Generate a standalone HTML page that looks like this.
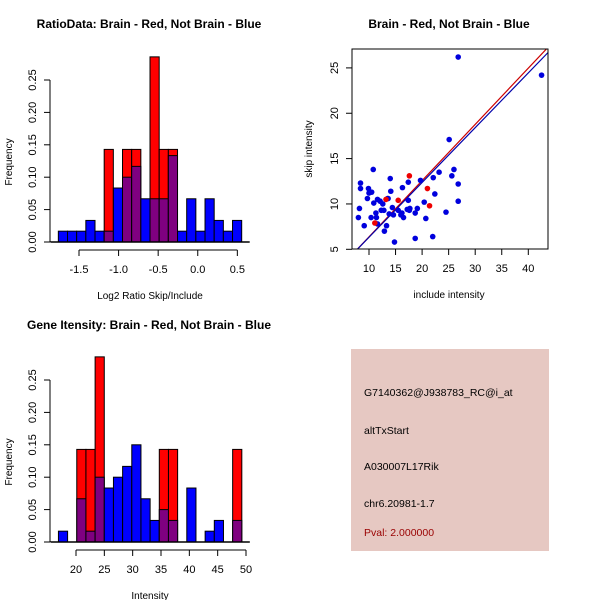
<!DOCTYPE html>
<html><head><meta charset="utf-8"><style>
body{margin:0;background:#fff}
svg{display:block;font-family:"Liberation Sans",sans-serif}
</style></head><body>
<svg id="c" width="600" height="600" xmlns="http://www.w3.org/2000/svg">
<rect width="600" height="600" fill="#fff"/>
</svg>
<script>
// Histogram 1: ratio data (20 bins)
const ratioBinStart = -1.761;
const ratioBinWidth = 0.1158;
const ratioBlue = [0.0167,0.0167,0.0167,0.0333,0.0167,0.0167,0.0833,0.1,0.1167,0.0667,0.0667,0.0667,0.1333,0.0167,0.0667,0.0167,0.0667,0.0333,0.0167,0.0333];
const ratioRed  = [0,0,0,0,0,0.1429,0,0.1429,0.1429,0,0.2857,0.1429,0.1429,0,0,0,0,0,0,0];
const ratioXTicks = [-1.5,-1.0,-0.5,0.0,0.5];
const ratioXLabels = ["-1.5","-1.0","-0.5","0.0","0.5"];
// Histogram 2: intensity
const intBinStart = 16.9;
const intBinWidth = 1.618;
const intBlue = [0.0167,0,0.0667,0.0167,0.1,0.0833,0.1,0.1167,0.15,0.0667,0.0333,0.05,0.0333,0,0.0833,0,0.0167,0.0333,0,0.0333];
const intRed  = [0,0,0.1429,0.1429,0.2857,0,0,0,0,0,0,0.1429,0.1429,0,0,0,0,0,0,0.1429];
const intXTicks = [20,25,30,35,40,45,50];
const freqTicks = [0,0.05,0.1,0.15,0.2,0.25];
const freqLabels = ["0.00","0.05","0.10","0.15","0.20","0.25"];
// Scatter
const blueX = [8.0,8.2,8.4,8.4,9.1,9.7,9.9,10.0,10.5,10.4,10.8,10.9,11.3,11.4,11.6,11.6,12.1,12.3,12.6,12.8,12.9,13.3,13.5,13.6,13.8,14.0,14.1,14.4,14.6,14.8,15.5,16.0,16.2,16.3,16.5,17.2,17.4,17.4,17.6,17.7,18.7,18.7,19.1,19.7,20.4,20.7,22.0,22.1,22.4,23.2,24.5,25.1,25.6,26.0,26.8,26.8,26.8,42.5];
const blueY = [8.5,9.5,12.3,11.7,7.6,10.6,11.7,11.2,11.3,8.5,13.8,10.1,9.0,8.5,10.5,7.8,10.3,9.3,10.0,9.3,7.0,7.6,10.6,10.6,8.9,12.8,11.4,9.6,8.8,5.8,9.3,8.8,9.0,11.8,8.5,9.4,12.4,10.4,9.3,9.5,9.0,6.2,9.5,12.6,10.2,8.4,6.4,12.9,11.1,13.5,9.1,17.1,13.1,13.8,26.2,12.2,10.3,24.2];
const redX = [11.1,13.2,15.5,17.6,21.0,21.4];
const redY = [7.9,10.5,10.4,13.1,11.7,9.8];
const fitIntercept = [0.17,0.29];   // red, blue
const fitSlope = [0.62,0.604];
const scXTicks = [10,15,20,25,30,35,40];
const scYTicks = [5,10,15,20,25];
const infoLines = ["G7140362@J938783_RC@i_at","altTxStart","A030007L17Rik","chr6.20981-1.7"];
const pvalText = "Pval: 2.000000";

const svg = document.getElementById('c');
const NS = 'http://www.w3.org/2000/svg';
function mk(tag, attrs, parent){const e=document.createElementNS(NS,tag);for(const k in attrs)e.setAttribute(k,attrs[k]);(parent||svg).appendChild(e);return e;}
function txt(s,attrs,parent){const e=mk('text',attrs,parent);e.textContent=s;return e;}

function hist(opts){
  const g = mk('g',{});
  
  
  const xs = v => opts.x0px + (v - opts.xv0) * opts.pxPerUnit;
  const ys = v => opts.y0px - v * (162/0.25);
  const n = opts.blue.length;
  for(let i=0;i<n;i++){
    const a = opts.binStart + i*opts.binWidth, b = a + opts.binWidth;
    const x1 = xs(a), x2 = xs(b);
    const r = opts.red[i], bl = opts.blue[i];
    if(r>0){
      const e = mk('rect',{x:x1,y:ys(r),width:x2-x1,height:ys(0)-ys(r),fill:'#ff0000',stroke:'#000','stroke-width':1},g);
      
      
    }
    if(bl>0){
      const col = r>0 ? '#7f0080' : '#0000ff';
      const e = mk('rect',{x:x1,y:ys(bl),width:x2-x1,height:ys(0)-ys(bl),fill:col,stroke:'#000','stroke-width':1},g);
      
      
    }
  }
  // y axis
  const ya = mk('g',{},g);
  
  
  mk('line',{x1:50,x2:50,y1:ys(0),y2:ys(0.25),stroke:'#000'},ya);
  freqTicks.forEach((t,i)=>{
    mk('line',{x1:44,x2:50,y1:ys(t),y2:ys(t),stroke:'#000'},ya);
    const y=ys(t);
    txt(freqLabels[i],{x:36,y:y,transform:`rotate(-90 36 ${y})`,'text-anchor':'middle','font-size':11},ya);
  });
  const yl = txt('Frequency',{x:12,y:opts.y0px-80,transform:`rotate(-90 12 ${opts.y0px-80})`,'text-anchor':'middle','font-size':10},g);
  
  
  // baseline
  mk('line',{x1:xs(opts.binStart)-8,x2:xs(opts.binStart+n*opts.binWidth)+8,y1:ys(0),y2:ys(0),stroke:'#000','stroke-width':1.5},g);
  // x axis
  const xa = mk('g',{},g);
  
  
  const axY = opts.y0px + 8;
  mk('line',{x1:xs(opts.ticks[0]),x2:xs(opts.ticks[opts.ticks.length-1]),y1:axY,y2:axY,stroke:'#000'},xa);
  opts.ticks.forEach((t,i)=>{
    mk('line',{x1:xs(t),x2:xs(t),y1:axY,y2:axY+6,stroke:'#000'},xa);
    txt(opts.labels[i],{x:xs(t),y:axY+23,'text-anchor':'middle','font-size':11},xa);
  });
  const xl = txt(opts.xtitle,{x:opts.xtitleX,y:opts.y0px+57,'text-anchor':'middle','font-size':10},g);
  
  
  const tt = txt(opts.title,{x:opts.titleX,y:opts.titleY,'text-anchor':'middle','font-size':12,'font-weight':'bold'},g);
  
  
}

hist({name:'ratio-histogram',blue:ratioBlue,red:ratioRed,binStart:ratioBinStart,binWidth:ratioBinWidth,
  x0px:79,xv0:-1.5,pxPerUnit:79.17,y0px:242,ticks:ratioXTicks,labels:ratioXLabels,
  xtitle:'Log2 Ratio Skip/Include',xtitleX:150,title:'RatioData: Brain - Red, Not Brain - Blue',titleX:149,titleY:28});
hist({name:'intensity-histogram',blue:intBlue,red:intRed,binStart:intBinStart,binWidth:intBinWidth,
  x0px:76,xv0:20,pxPerUnit:5.667,y0px:542,ticks:intXTicks,labels:intXTicks.map(String),
  xtitle:'Intensity',xtitleX:150,title:'Gene Itensity: Brain - Red, Not Brain - Blue',titleX:149,titleY:329});

// Scatter
(function(){
  const g = mk('g',{});
  
  
  const xs = v => 369 + (v-10)*5.31;
  const ys = v => 249.3 - (v-5)*9.07;
  const L=352,R=548,T=49,B=249;
  const cp = mk('clipPath',{id:'clip'},g);
  mk('rect',{x:L,y:T,width:R-L,height:B-T},cp);
  const colors=['#cc0000','#0000aa'];
  fitIntercept.forEach((b,i)=>{
    const ln = mk('line',{x1:xs(5),y1:ys(b+fitSlope[i]*5),x2:xs(45),y2:ys(b+fitSlope[i]*45),stroke:colors[i],'stroke-width':1.2,'clip-path':'url(#clip)'},g);
    
    
  });
  blueX.forEach((x,i)=>{
    const c = mk('circle',{cx:xs(x),cy:ys(blueY[i]),r:2.8,fill:'#0000dd'},g);
    
    
  });
  redX.forEach((x,i)=>{
    const c = mk('circle',{cx:xs(x),cy:ys(redY[i]),r:2.8,fill:'#ee0000'},g);
    
    
  });
  mk('rect',{x:L,y:T,width:R-L,height:B-T,fill:'none',stroke:'#000'},g);
  const xa = mk('g',{},g);
  
  
  scXTicks.forEach(t=>{
    mk('line',{x1:xs(t),x2:xs(t),y1:B,y2:B+6,stroke:'#000'},xa);
    txt(String(t),{x:xs(t),y:B+23,'text-anchor':'middle','font-size':11},xa);
  });
  const ya = mk('g',{},g);
  
  
  scYTicks.forEach(t=>{
    mk('line',{x1:L-6,x2:L,y1:ys(t),y2:ys(t),stroke:'#000'},ya);
    txt(String(t),{x:338,y:ys(t),transform:`rotate(-90 338 ${ys(t)})`,'text-anchor':'middle','font-size':11},ya);
  });
  const xl = txt('include intensity',{x:449,y:298,'text-anchor':'middle','font-size':10},g);
  
  
  const yl = txt('skip intensity',{x:312,y:149,transform:'rotate(-90 312 149)','text-anchor':'middle','font-size':10},g);
  
  
  const tt = txt('Brain - Red, Not Brain - Blue',{x:449,y:28,'text-anchor':'middle','font-size':12,'font-weight':'bold'},g);
  
  
})();

// Info panel
(function(){
  const g = mk('g',{});
  
  
  mk('rect',{x:351,y:349,width:198,height:202,fill:'#e6c8c2'},g);
  const ys=[396,434,470,507];
  infoLines.forEach((s,i)=>{
    const t = txt(s,{x:364,y:ys[i],'font-size':10.5,fill:'#000'},g);
    
    
  });
  const p = txt(pvalText,{x:364,y:536,'font-size':10.5,fill:'#990000'},g);
  
  
})();
</script>
</body></html>
